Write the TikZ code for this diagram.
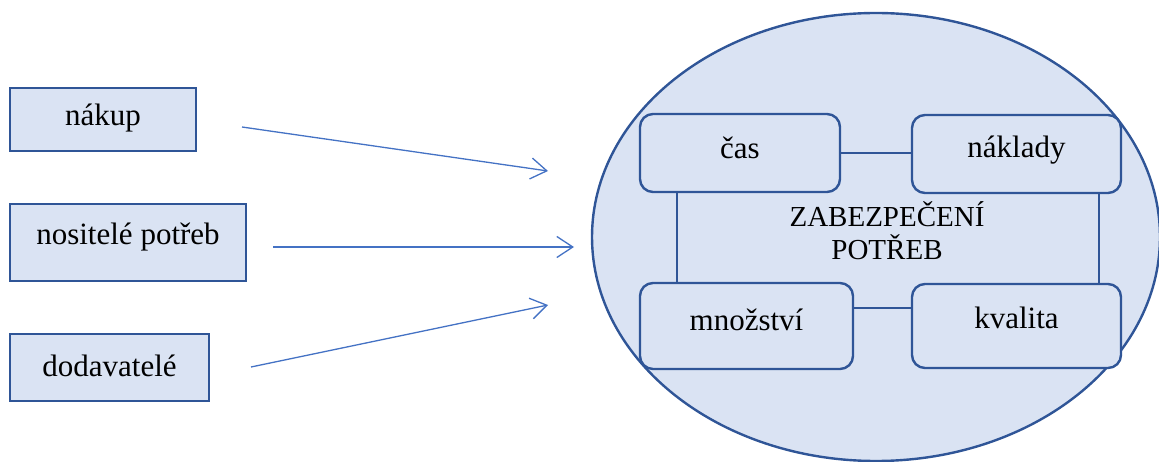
\documentclass[tikz,border=0pt]{standalone}
\usepackage{fontspec}
\setmainfont{Liberation Serif}
\usetikzlibrary{arrows.meta,shapes.geometric}
\definecolor{boxfill}{HTML}{DAE3F3}
\definecolor{boxline}{HTML}{2F5597}
\definecolor{arrowblue}{HTML}{4472C4}
\tikzset{
  leftbox/.style={draw=boxline, fill=boxfill, line width=2.6pt, inner sep=0pt},
  roundbox/.style={draw=boxline, fill=boxfill, line width=2.4pt, rounded corners=13pt, inner sep=0pt},
  link/.style={draw=boxline, line width=2.4pt},
  feed/.style={draw=arrowblue, line width=1.3pt,
    -{Straight Barb[length=16pt, width=21pt, line width=1.3pt]}},
  label/.style={font=\fontsize{31}{36}\selectfont, inner sep=0pt},
}
\begin{document}
\begin{tikzpicture}[x=1pt, y=-1pt]
  \useasboundingbox (0,0) rectangle (1159,462);

  % sources on the left
  \node[leftbox, minimum width=186pt, minimum height=63pt] (nakup) at (103,119.5) {};
  \node[label] at ([yshift=1pt]nakup.center) {nákup};
  \node[leftbox, minimum width=236pt, minimum height=77pt] (nositele) at (128,242.5) {};
  \node[label] at ([yshift=5pt]nositele.center) {nositelé potřeb};
  \node[leftbox, minimum width=199pt, minimum height=67pt] (dodavatele) at (109.5,367.5) {};
  \node[label] at ([yshift=2pt]dodavatele.center) {dodavatelé};

  % free ends of the feeding arrows
  \coordinate (a1s) at (242,127);
  \coordinate (a1e) at (548,171);
  \coordinate (a2s) at (273,247);
  \coordinate (a2e) at (574,247);
  \coordinate (a3s) at (251,367);
  \coordinate (a3e) at (548,305);
  \draw[feed] (a1s) -- (a1e);
  \draw[feed] (a2s) -- (a2e);
  \draw[feed] (a3s) -- (a3e);

  % the area of need coverage
  \node[ellipse, draw=boxline, fill=boxfill, line width=2.4pt, inner sep=0pt,
        minimum width=568pt, minimum height=448pt] (zone) at (876,237) {};

  \node[roundbox, minimum width=200pt, minimum height=78pt] (cas) at (740,153) {};
  \node[roundbox, minimum width=209pt, minimum height=78pt] (naklady) at (1016.5,154) {};
  \node[roundbox, minimum width=213pt, minimum height=86pt] (mnozstvi) at (746.5,326) {};
  \node[roundbox, minimum width=209pt, minimum height=84pt] (kvalita) at (1016.5,326) {};

  \node[label] at ([yshift=5pt]cas.center) {čas};
  \node[label] at ([yshift=4pt]naklady.center) {náklady};
  \node[label] at ([yshift=6pt]mnozstvi.center) {množství};
  \node[label] at ([yshift=8pt]kvalita.center) {kvalita};

  % links between the four criteria
  \draw[link] (cas.east) -- (cas.east -| naklady.west);
  \draw[link] ([yshift=18pt]mnozstvi.east) -- ([yshift=18pt]mnozstvi.east -| kvalita.west);
  \draw[link] ([xshift=-63pt]cas.south) -- ([xshift=-63pt]cas.south |- mnozstvi.north);
  \draw[link] ([xshift=82.5pt]naklady.south) -- ([xshift=82.5pt]naklady.south |- kvalita.north);

  \node[font=\fontsize{29}{33}\selectfont, align=center, inner sep=0pt] (title) at (887,231)
    {ZABEZPEČENÍ\\POTŘEB};
\end{tikzpicture}
\end{document}
